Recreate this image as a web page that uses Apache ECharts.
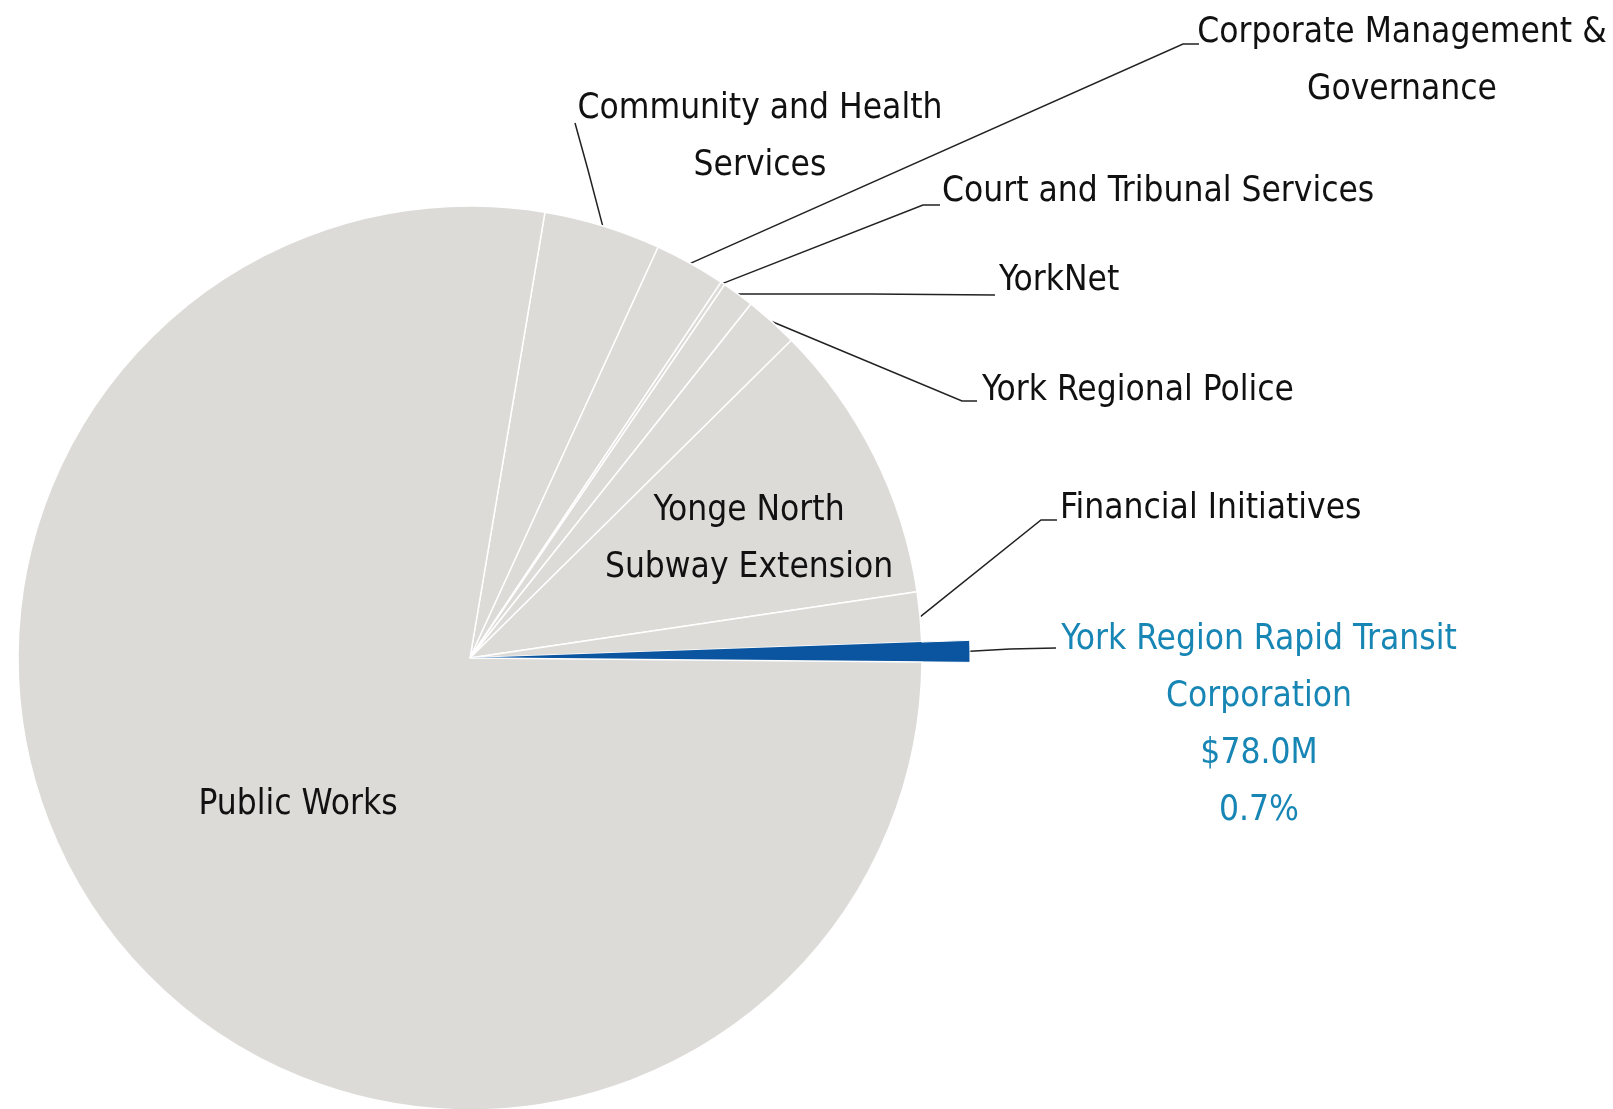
<!DOCTYPE html>
<html>
<head>
<meta charset="utf-8">
<script src="https://cdn.jsdelivr.net/npm/echarts@6/dist/echarts.min.js"></script>
<style>
  html, body { margin: 0; padding: 0; background: #fff; }
  #chart { width: 1613px; height: 1109px; }
</style>
</head>
<body>
<div id="chart"></div>
<script>
  // capital spending by program, $ millions
  const names = [
    'Community and Health\nServices',
    'Corporate Management &\nGovernance',
    'Court and Tribunal Services',
    'YorkNet',
    'York Regional Police',
    'Yonge North\nSubway Extension',
    'Financial Initiatives',
    'York Region Rapid Transit\nCorporation',
    'Public Works'
  ];
  const values = [466, 283, 17, 128, 213, 1122, 198, 78.0, 8634];
  const highlightIndex = 7;
  const highlightValue = '$78.0M';
  const highlightShare = '0.7%';

  const GREY = '#dcdbd8';
  const BLUE = '#0b55a0';
  const TEXT_BLUE = '#1786b5';
  const FONT = "'DejaVu Sans Condensed', 'Liberation Sans Narrow', 'Open Sans', sans-serif";

  // where each label sits and where its leader line bends / ends
  const labelPlace = [
    { x: 760, y: 137, align: 'center', bend: [588, 170], end: [575, 123] },
    { x: 1402, y: 61, align: 'center', bend: [1183, 44], end: [1199, 44] },
    { x: 942, y: 192, align: 'left', bend: [923, 205], end: [940, 205] },
    { x: 999, y: 281, align: 'left', bend: [870, 294], end: [995, 295] },
    { x: 982, y: 391, align: 'left', bend: [962, 401], end: [977, 401] },
    { x: 749, y: 539, align: 'center', inside: true },
    { x: 1060, y: 509, align: 'left', bend: [1041, 520], end: [1057, 520] },
    { x: 1259, y: 725, align: 'center', bend: [1010, 649], end: [1056, 648] },
    { x: 298, y: 805, align: 'center', inside: true }
  ];

  const chart = echarts.init(document.getElementById('chart'));

  const baseData = names.map((n, i) => ({
    name: n,
    value: values[i],
    itemStyle: i === highlightIndex
      ? { color: BLUE, borderWidth: 0 }
      : { color: GREY },
    label: { show: i !== highlightIndex },
    labelLine: { show: !labelPlace[i].inside && i !== highlightIndex }
  }));

  // second ring: only the highlighted slice is visible, drawn longer
  const topData = names.map((n, i) => ({
    name: n,
    value: values[i],
    itemStyle: i === highlightIndex
      ? { color: BLUE, borderColor: '#fff', borderWidth: 1 }
      : { color: 'rgba(0,0,0,0)', borderWidth: 0 },
    label: { show: i === highlightIndex },
    labelLine: { show: i === highlightIndex }
  }));

  function layoutFor(params) {
    const p = labelPlace[params.dataIndex];
    const out = { x: p.x, y: p.y, align: p.align, verticalAlign: 'middle' };
    if (!p.inside && params.labelLinePoints) {
      out.labelLinePoints = [params.labelLinePoints[0], p.bend, p.end];
    }
    return out;
  }

  const option = {
    backgroundColor: '#fff',
    animation: false,
    series: [
      {
        type: 'pie',
        center: [470, 658],
        radius: 500,
        startAngle: 80.46,
        z: 1,
        silent: true,
        data: topData,
        label: {
          position: 'outside',
          formatter: p => p.name + '\n' + highlightValue + '\n' + highlightShare,
          color: TEXT_BLUE,
          fontFamily: FONT,
          fontSize: 35,
          lineHeight: 57,
          align: 'center',
          overflow: 'none'
        },
        labelLine: { lineStyle: { color: '#222', width: 1.5 } },
        labelLayout: layoutFor
      },
      {
        type: 'pie',
        center: [470, 658],
        radius: 452,
        startAngle: 80.46,
        z: 2,
        silent: true,
        data: baseData,
        itemStyle: { borderColor: '#fff', borderWidth: 1.5 },
        label: {
          position: 'outside',
          formatter: '{b}',
          color: '#111',
          fontFamily: FONT,
          fontSize: 35,
          lineHeight: 57,
          align: 'center',
          overflow: 'none'
        },
        labelLine: { lineStyle: { color: '#222', width: 1.5 } },
        labelLayout: layoutFor
      }
    ]
  };

  chart.setOption(option);
</script>
</body>
</html>
